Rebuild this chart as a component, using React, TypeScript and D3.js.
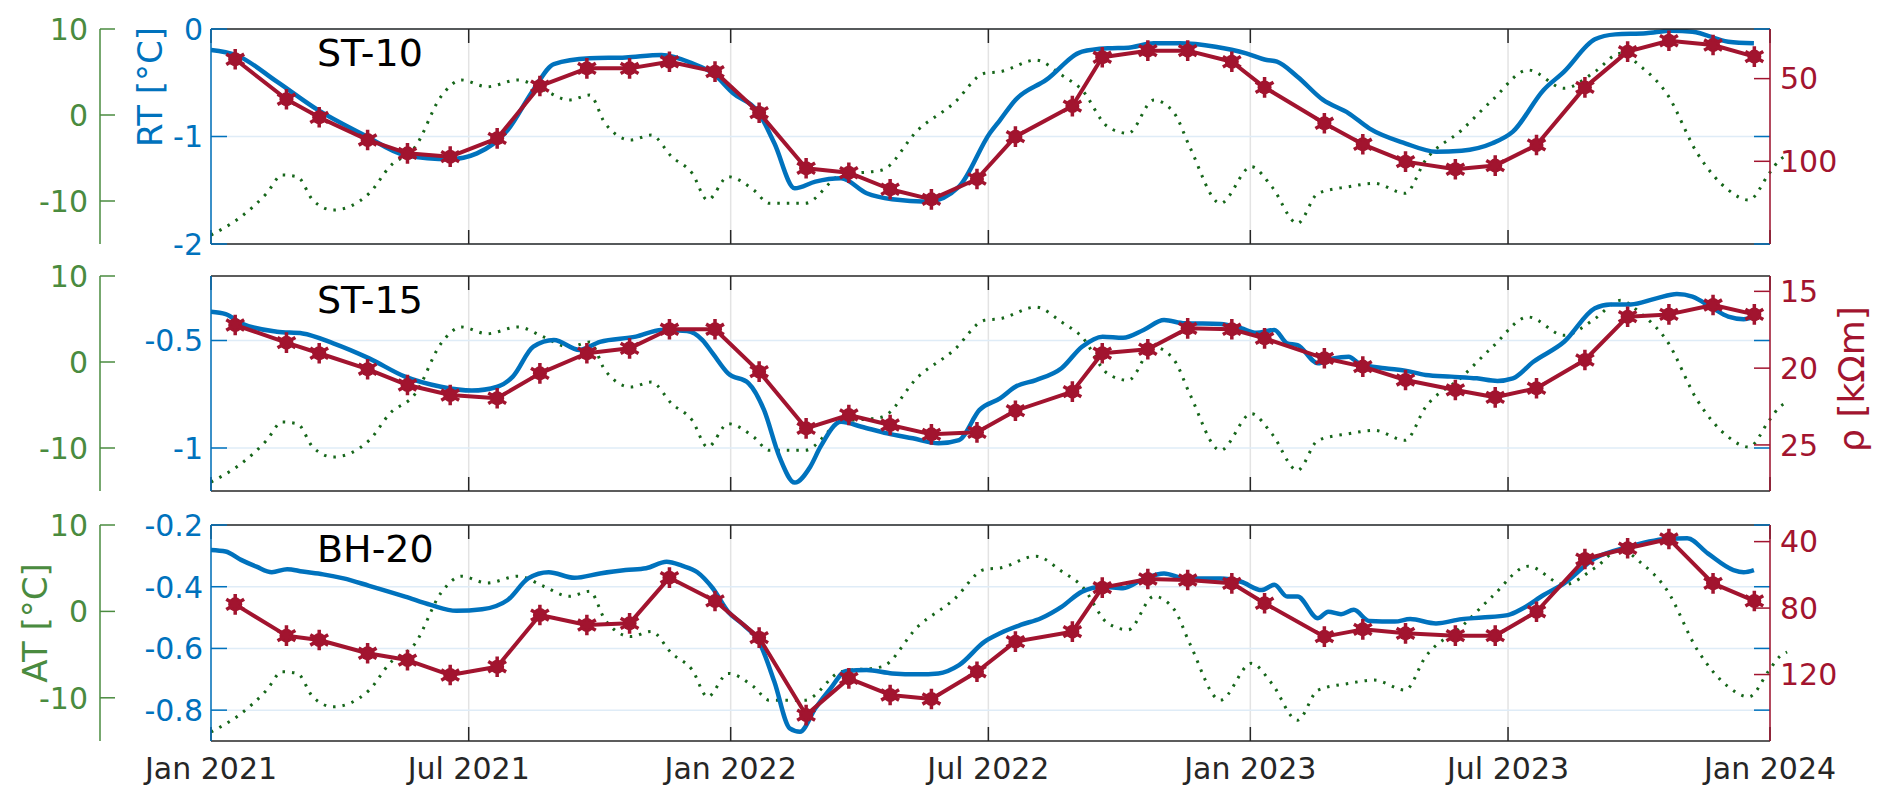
import React from "react";
import * as d3 from "d3";

// Day offsets are days since 2021-01-01
const markerDays = [17,53,76,110,138,168,201,231,264,294,322,354,385,418,448,477,506,538,565,605,626,658,686,717,740,782,809,839,874,902,931,965,995,1024,1055,1084];

const rho10 = [38.3,62.5,73.4,87.1,95.2,97.2,86.1,54.5,43.8,43.8,39.8,45.8,70.6,104.2,106.9,116.9,123,110.7,85.1,66.6,37.1,33.1,33.1,39.8,55.3,77,89.7,100.2,104.8,102.6,90.1,55.3,33.7,27.1,29.7,36.7];
const rho15 = [17.19,18.34,19.03,20.07,21.1,21.75,21.96,20.34,19.03,18.71,17.47,17.47,20.23,23.92,23.05,23.7,24.31,24.18,22.77,21.53,19.03,18.77,17.41,17.47,18.06,19.36,19.9,20.77,21.42,21.9,21.31,19.47,16.65,16.5,15.89,16.5];
const rho20 = [77.75,96.6,99.2,107.2,111.3,120.3,115.3,84.2,90.2,89.2,61.7,75.7,97.8,144.4,122.3,132.3,134.7,118.3,100.2,94.2,67.7,62.5,63.1,65.1,77.1,97.2,92.8,95.2,96.6,96.6,82.2,50.5,44,38.4,65.1,75.7];

const rt10Days = [0,17.5,46.3,75,107.5,136.3,167.7,186.8,208.4,226.4,240.8,266,291.2,316.4,338,352.4,366.8,384.9,395.7,410,424.5,442.5,460.5,478.5,503.7,525.4,547,554.2,565,586.6,611.8,629.8,644.2,662.2,680.3,705.5,727.1,741.5,748.7,763.1,781.1,799.1,813.5,838.7,860.4,878.4,900,914.4,936,950.4,972,986.4,1008,1026,1040.5,1065.7,1083.7];
const rt10 = [-0.195,-0.242,-0.49,-0.753,-0.986,-1.172,-1.212,-1.157,-0.94,-0.567,-0.326,-0.273,-0.264,-0.242,-0.319,-0.412,-0.598,-0.784,-1.063,-1.482,-1.42,-1.389,-1.528,-1.584,-1.606,-1.467,-0.97,-0.847,-0.66,-0.474,-0.211,-0.18,-0.174,-0.133,-0.133,-0.165,-0.226,-0.288,-0.304,-0.444,-0.66,-0.784,-0.924,-1.063,-1.141,-1.132,-1.063,-0.955,-0.567,-0.397,-0.096,-0.05,-0.04,-0.016,-0.025,-0.118,-0.133];

const rt15Days = [0,10.3,21.1,46.3,64.3,85.9,111.1,136.3,161.5,183.2,201.2,212,226.4,240.8,258.8,273.2,298.4,316.4,334.4,345.2,352.4,363.2,377.6,388.4,399.2,410,420.9,428.1,442.5,456.9,474.9,492.9,510.9,525.4,539.8,554.2,565,579.4,597.4,611.8,626.2,640.6,655,669.4,683.9,709,723.5,734.3,746.9,755.9,763.1,777.5,788.3,799.1,806.3,824.3,838.7,853.1,871.1,889.1,903.5,914.4,928.8,950.4,972,982.8,997.2,1015.2,1029.6,1040.5,1054.9,1065.7,1076.5,1083.7];
const rt15 = [-0.366,-0.377,-0.42,-0.459,-0.467,-0.513,-0.583,-0.668,-0.715,-0.733,-0.715,-0.668,-0.529,-0.498,-0.544,-0.506,-0.482,-0.451,-0.456,-0.498,-0.56,-0.653,-0.699,-0.823,-1.04,-1.161,-1.087,-0.994,-0.878,-0.901,-0.932,-0.955,-0.978,-0.963,-0.823,-0.769,-0.715,-0.684,-0.629,-0.529,-0.482,-0.487,-0.451,-0.405,-0.42,-0.423,-0.443,-0.464,-0.451,-0.513,-0.521,-0.606,-0.583,-0.575,-0.606,-0.629,-0.64,-0.66,-0.668,-0.676,-0.688,-0.676,-0.599,-0.506,-0.35,-0.332,-0.332,-0.304,-0.284,-0.296,-0.35,-0.389,-0.401,-0.389];

const rt20Days = [0,10.3,21.1,31.9,42.7,53.5,64.3,78.7,93.1,111.1,136.3,154.3,172.3,190.4,208.4,222.8,237.2,255.2,273.2,291.2,305.6,320,330.8,341.6,352.4,363.2,374,384.9,395.7,406.5,413.7,424.5,435.3,446.1,460.5,478.5,496.5,510.9,525.4,543.4,554.2,568.6,583,597.4,611.8,626.2,640.6,655,669.4,683.9,709,723.5,737.9,746.9,755.9,763.1,777.5,784.7,793.7,802.7,813.5,831.5,842.3,860.4,878.4,892.8,910.8,921.6,936,950.4,972,993.6,1022.4,1036.9,1051.3,1069.3,1076.5,1083.7];
const rt20 = [-0.281,-0.286,-0.313,-0.335,-0.353,-0.343,-0.351,-0.36,-0.373,-0.397,-0.432,-0.459,-0.478,-0.473,-0.443,-0.373,-0.353,-0.371,-0.357,-0.346,-0.34,-0.319,-0.332,-0.353,-0.405,-0.481,-0.524,-0.578,-0.708,-0.859,-0.87,-0.794,-0.729,-0.673,-0.67,-0.681,-0.684,-0.681,-0.654,-0.578,-0.551,-0.524,-0.502,-0.465,-0.416,-0.4,-0.405,-0.375,-0.357,-0.373,-0.373,-0.384,-0.411,-0.394,-0.432,-0.432,-0.502,-0.481,-0.489,-0.475,-0.511,-0.513,-0.505,-0.519,-0.505,-0.5,-0.492,-0.47,-0.427,-0.389,-0.308,-0.273,-0.245,-0.243,-0.292,-0.346,-0.353,-0.346];

const atDays = [0,21.1,39.1,49.9,60.7,71.5,85.9,111.1,125.5,143.5,161.5,175.9,193.9,215.6,233.6,251.6,266,276.8,294.8,309.2,323.6,338,348.8,363.2,381.2,392,417.2,442.5,471.3,496.5,521.7,543.3,554.2,579.4,597.4,611.8,629.8,644.2,662.2,676.6,687.4,709,730.7,745.1,763.1,777.5,799.1,817.1,838.7,853.1,878.4,900,925.2,950.4,972,990,1004.4,1022.4,1044,1065.7,1080.1,1094.5,1101.7,1107];
const atVals = [-13.96,-11.83,-9.11,-6.98,-7.18,-9.89,-11.05,-9.11,-6.01,-3.69,2.13,4.07,3.29,4.07,2.91,1.74,2.32,-0.97,-2.91,-2.33,-4.85,-6.78,-9.89,-7.18,-8.72,-10.27,-10.27,-6.98,-6.4,-1.75,1.36,4.85,5.03,6.39,4.65,2.91,-1.36,-2.13,1.74,0.2,-3.69,-10.27,-6.01,-8.34,-12.6,-9.11,-8.34,-7.95,-9.11,-5.24,-1.75,1.74,5.23,3.1,5.03,7.17,5.62,2.52,-4.46,-8.72,-9.89,-6.78,-5.24,-4.7];

const xTickLabels = ["Jan 2021","Jul 2021","Jan 2022","Jul 2022","Jan 2023","Jul 2023","Jan 2024"];
const xTickDates = ["2021-01-01","2021-07-01","2022-01-01","2022-07-01","2023-01-01","2023-07-01","2024-01-01"];
const atTicks = [10, 0, -10];

const panels = [
  { title: "ST-10", top: 29, bottom: 244, rtDomain: [-2, 0], rtTicks: [-2, -1, 0], rtDec: 0, rhoDomain: [20, 150], rhoTicks: [50, 100], rtDays: rt10Days, rt: rt10, rho: rho10 },
  { title: "ST-15", top: 276, bottom: 491, rtDomain: [-1.2, -0.2], rtTicks: [-1, -0.5], rtDec: -1, rhoDomain: [14, 28], rhoTicks: [15, 20, 25], rtDays: rt15Days, rt: rt15, rho: rho15 },
  { title: "BH-20", top: 525, bottom: 741, rtDomain: [-0.9, -0.2], rtTicks: [-0.8, -0.6, -0.4, -0.2], rtDec: 1, rhoDomain: [30, 160], rhoTicks: [40, 80, 120], rtDays: rt20Days, rt: rt20, rho: rho20 },
];

const BLUE = "#0072BD";
const RED = "#A2142F";
const GREEN = "#4A8B3F";
const DOTGREEN = "#16661A";
const DARK = "#262626";
const FONT = "DejaVu Sans, Verdana, sans-serif";

const L = 211, R = 1770, GX = 100;
const t0 = new Date("2021-01-01T00:00:00");
const dayToDate = (d: number) => new Date(t0.getTime() + d * 86400000);

export default function App() {
  const x = d3.scaleTime().domain([t0, new Date("2024-01-01T00:00:00")]).range([L, R]);
  const fmtRT = (v: number, dec: number) => (dec > 0 ? v.toFixed(dec) : String(v));
  const star = d3.symbol().type(d3.symbolAsterisk).size(300)() as string;
  return (
    <svg width={1892} height={797} style={{ display: "block", position: "absolute", left: 0, top: 0, background: "#fff" }} fontFamily={FONT}>
      {panels.map((p, pi) => {
        const yRT = d3.scaleLinear().domain(p.rtDomain).range([p.bottom, p.top]);
        const yRho = d3.scaleLinear().domain(p.rhoDomain).range([p.top, p.bottom]);
        const yAT = d3.scaleLinear().domain([-15, 10]).range([p.bottom, p.top]);
        const rtLine = d3.line<number>().x((_, i) => x(dayToDate(p.rtDays[i]))).y((v) => yRT(v)).curve(d3.curveMonotoneX);
        const rhoLine = d3.line<number>().x((_, i) => x(dayToDate(markerDays[i]))).y((v) => yRho(v));
        const atLine = d3.line<number>().x((_, i) => x(dayToDate(atDays[i]))).y((v) => yAT(v)).curve(d3.curveMonotoneX);
        const clipId = `clip${pi}`;
        return (
          <g key={pi}>
            <defs>
              <clipPath id={clipId}><rect x={L} y={p.top} width={R - L} height={p.bottom - p.top} /></clipPath>
            </defs>
            {xTickDates.map((d, i) => (
              <line key={"vg" + i} x1={x(new Date(d + "T00:00:00"))} x2={x(new Date(d + "T00:00:00"))} y1={p.top} y2={p.bottom} stroke="#e3e3e3" strokeWidth={1.5} />
            ))}
            {p.rtTicks.map((t, i) => (
              <line key={"hg" + i} x1={L} x2={R} y1={yRT(t)} y2={yRT(t)} stroke="#dfecf7" strokeWidth={1.5} />
            ))}
            <path d={atLine(atVals) || ""} fill="none" stroke={DOTGREEN} strokeWidth={3} strokeDasharray="2.5 7" />
            <g clipPath={`url(#${clipId})`}>
              <path d={rtLine(p.rt) || ""} fill="none" stroke={BLUE} strokeWidth={4.5} strokeLinejoin="round" />
            </g>
            <path d={rhoLine(p.rho) || ""} fill="none" stroke={RED} strokeWidth={4} strokeLinejoin="round" />
            {p.rho.map((v, i) => (
              <g key={"m" + i} transform={`translate(${x(dayToDate(markerDays[i]))},${yRho(v)})`}>
                <circle r={7} fill={RED} />
                <path d={star} fill="none" stroke={RED} strokeWidth={3.5} />
              </g>
            ))}
            <line x1={L} x2={R} y1={p.top} y2={p.top} stroke={DARK} strokeWidth={1.5} />
            <line x1={L} x2={R} y1={p.bottom} y2={p.bottom} stroke={DARK} strokeWidth={1.5} />
            {xTickDates.map((d, i) => {
              const xx = x(new Date(d + "T00:00:00"));
              return (
                <g key={"xt" + i}>
                  <line x1={xx} x2={xx} y1={p.top} y2={p.top + 14} stroke={DARK} strokeWidth={1.5} />
                  <line x1={xx} x2={xx} y1={p.bottom} y2={p.bottom - 14} stroke={DARK} strokeWidth={1.5} />
                </g>
              );
            })}
            <line x1={L} x2={L} y1={p.top} y2={p.bottom} stroke={BLUE} strokeWidth={1.5} />
            {p.rtTicks.map((t, i) => (
              <g key={"rt" + i}>
                <line x1={L} x2={L + 16} y1={yRT(t)} y2={yRT(t)} stroke={BLUE} strokeWidth={1.5} />
                <line x1={R} x2={R - 16} y1={yRT(t)} y2={yRT(t)} stroke={BLUE} strokeWidth={1.5} />
                <text x={L - 8} y={yRT(t)} dy="0.36em" textAnchor="end" fill={BLUE} fontSize={30}>{fmtRT(t, p.rtDec)}</text>
              </g>
            ))}
            <line x1={R} x2={R} y1={p.top} y2={p.bottom} stroke={RED} strokeWidth={1.5} />
            {p.rhoTicks.map((t, i) => (
              <g key={"rh" + i}>
                <line x1={R} x2={R - 16} y1={yRho(t)} y2={yRho(t)} stroke={RED} strokeWidth={1.5} />
                <text x={R + 10} y={yRho(t)} dy="0.36em" textAnchor="start" fill={RED} fontSize={30}>{t}</text>
              </g>
            ))}
            <line x1={GX} x2={GX} y1={p.top} y2={p.bottom} stroke={GREEN} strokeWidth={1.5} />
            {atTicks.map((t, i) => (
              <g key={"at" + i}>
                <line x1={GX} x2={GX + 15} y1={yAT(t)} y2={yAT(t)} stroke={GREEN} strokeWidth={1.5} />
                <text x={GX - 12} y={yAT(t)} dy="0.36em" textAnchor="end" fill={GREEN} fontSize={30}>{t}</text>
              </g>
            ))}
            <text x={317} y={p.top + 37} fill="#000" fontSize={38}>{p.title}</text>
          </g>
        );
      })}
      {xTickDates.map((d, i) => (
        <text key={"xl" + i} x={x(new Date(d + "T00:00:00"))} y={779} textAnchor="middle" fill={DARK} fontSize={30}>{xTickLabels[i]}</text>
      ))}
      <text transform="translate(162,87) rotate(-90)" textAnchor="middle" fill={BLUE} fontSize={34}>RT [°C]</text>
      <text transform="translate(47,623) rotate(-90)" textAnchor="middle" fill={GREEN} fontSize={34}>AT [°C]</text>
      <text transform="translate(1864,379) rotate(-90)" textAnchor="middle" fill={RED} fontSize={36}>ρ [kΩm]</text>
    </svg>
  );
}
